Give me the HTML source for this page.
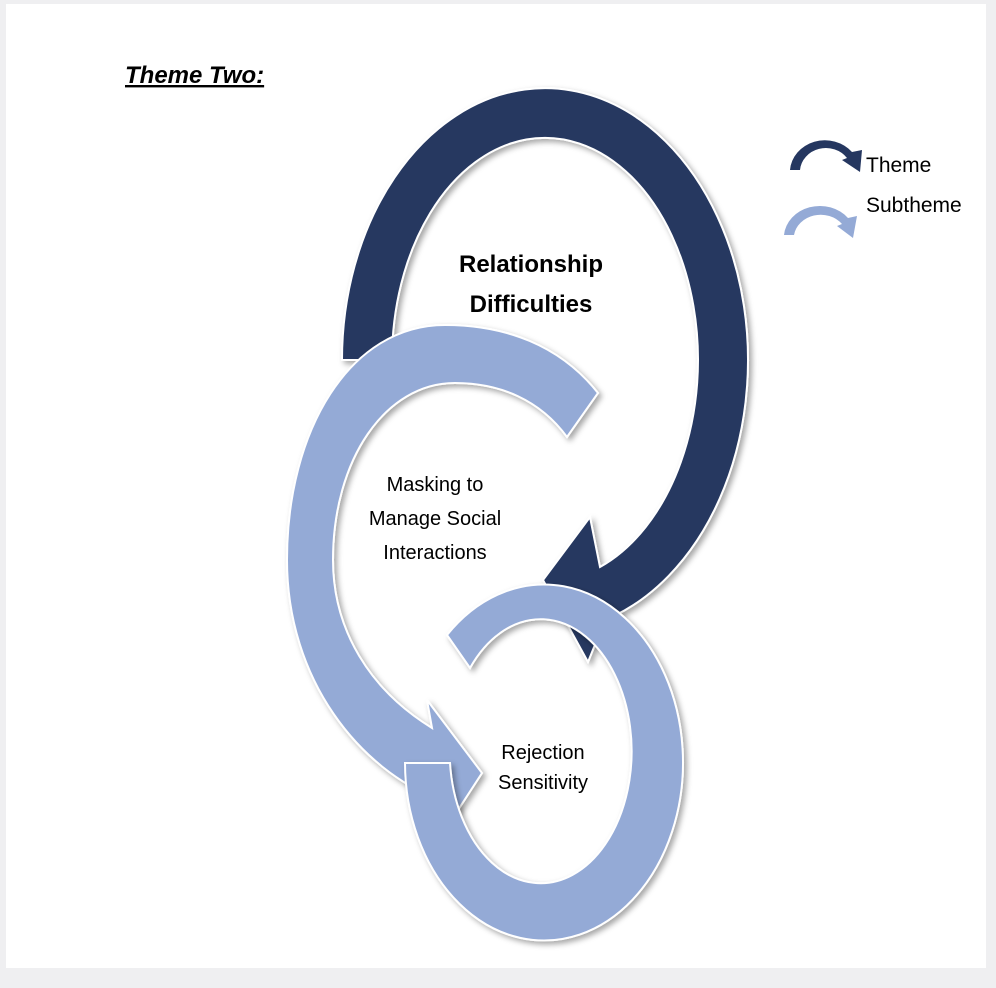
<!DOCTYPE html>
<html><head><style>
html,body{margin:0;padding:0;background:#efeff1;}
svg{display:block;}
text{font-family:"Liberation Sans",sans-serif;}
</style></head><body>
<svg width="996" height="988" viewBox="0 0 996 988" xmlns="http://www.w3.org/2000/svg">
<defs>
<filter id="sh" x="-20%" y="-20%" width="140%" height="140%">
<feDropShadow dx="3" dy="3" stdDeviation="3" flood-color="#000" flood-opacity="0.35"/>
</filter>
</defs>
<rect x="0" y="0" width="996" height="988" fill="#efeff1"/>
<rect x="6" y="4" width="980" height="964" fill="#ffffff"/>
<text x="125" y="83" font-size="24" font-weight="bold" font-style="italic" text-decoration="underline">Theme Two:</text>

<path d="M342,360 A203,272 0 1 1 605,620 L588,662 L543,580 L590,517 L600,567 A153,222 0 1 0 392,360 Z" fill="#253760" stroke="#fff" stroke-width="2" filter="url(#sh)"/>
<path d="M598,393 C560,345 505,325 445,325 C350,325 287,430 287,560 C287,680 360,770 440,800 L445,830 L482,773 L427,700 L432,728 C370,690 333,630 333,560 C333,460 385,383 455,383 C500,383 540,400 567,437 Z" fill="#94aad6" stroke="#fff" stroke-width="2" filter="url(#sh)"/>
<path d="M405,763 A139,178 0 1 0 447,635 L470,668 A91,132 0 1 1 450,763 Z" fill="#94aad6" stroke="#fff" stroke-width="2" filter="url(#sh)"/>

<g font-size="24" font-weight="bold" text-anchor="middle" fill="#000">
<text x="531" y="272">Relationship</text>
<text x="531" y="312">Difficulties</text>
</g>
<g font-size="20" text-anchor="middle" fill="#000">
<text x="435" y="491">Masking to</text>
<text x="435" y="525">Manage Social</text>
<text x="435" y="559">Interactions</text>
<text x="543" y="759">Rejection</text>
<text x="543" y="789">Sensitivity</text>
</g>

<path d="M790,170 A35,32 0 0 1 852,152 L862,150 L860,172 L842,160 L847,158 A26,24 0 0 0 800,170 Z" fill="#253760"/>
<path d="M784,235 A36,32 0 0 1 848,218 L857,216 L853,238 L837,226 L842,224 A27,24 0 0 0 794,235 Z" fill="#94aad6"/>
<text x="866" y="172" font-size="21" fill="#000">Theme</text>
<text x="866" y="212" font-size="21" fill="#000">Subtheme</text>
</svg>
</body></html>
